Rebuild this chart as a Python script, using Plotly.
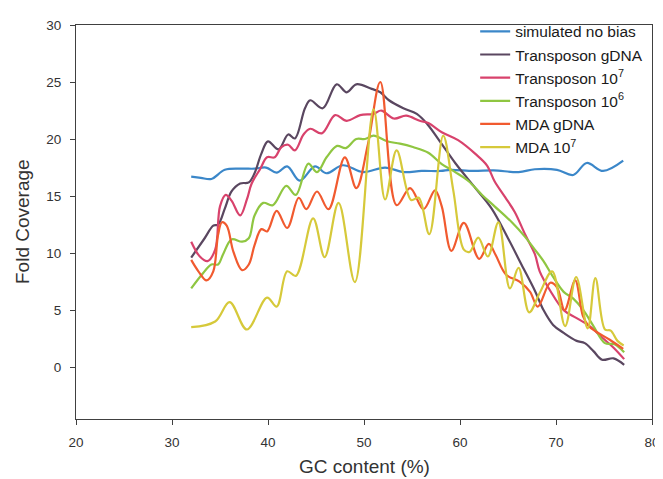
import plotly.graph_objects as go

# GC content (%) sample positions and fold coverage values
sim_x = [32, 33, 34.1, 35.5, 37.3, 38.6, 39.8, 40.9, 42.0, 43.3, 44.9, 46.1, 47.8, 49.9, 52.2, 54.1,
         56, 58, 59, 61.4, 63.5, 66.1, 67.8, 70.1, 71.8, 73.2, 74.9, 77]
sim_y = [16.7, 16.6, 16.5, 17.3, 17.4, 17.4, 17.5, 17.05, 17.6, 16.35, 17.6, 17.0, 17.7, 17.1, 17.5, 17.1,
         17.2, 17.2, 17.3, 17.2, 17.25, 17.1, 17.35, 17.3, 16.85, 17.9, 17.2, 18.1]

tg_x = [32, 33.4, 34.3, 34.8, 35.5, 36.2, 37.1, 38.0, 38.6, 39.3, 40.0, 41.1, 42.1, 42.8, 43.85, 44.4,
        45.7, 47.15, 48.2, 49.2, 50.8, 51.7, 52.6, 54.1, 55.5, 56.6, 57.9, 59.5, 61.6, 63.3, 65.0,
        66.4, 67.8, 68.7, 69.7, 70.8, 72.15, 73.0, 73.9, 74.8, 76.0, 77.1]
tg_y = [9.6, 11.3, 12.4, 12.5, 13.9, 15.4, 16.1, 16.2, 17.0, 18.7, 19.8, 19.1, 20.4, 20.05, 22.7, 23.4,
        22.7, 24.8, 24.1, 24.8, 24.4, 24.1, 23.4, 22.7, 22.2, 21.3, 19.8, 17.9, 15.7, 13.9, 11.3,
        9.0, 6.7, 5.0, 3.7, 3.0, 2.3, 2.1, 1.4, 0.65, 0.77, 0.2]

t7_x = [32, 32.9, 33.7, 34.5, 35.0, 35.6, 36.2, 37.1, 37.8, 38.3, 39.2, 39.9, 40.7, 41.4, 42.1, 42.8,
        43.7, 44.4, 45.6, 47.0, 48.2, 49.6, 51.0, 51.8, 53.1, 54.4, 55.8, 56.7, 58.1, 59.8, 61.6,
        62.8, 63.6, 64.7, 65.7, 66.8, 67.8, 68.3, 69.4, 70.8, 72.15, 73.5, 74.8, 76.0, 77.1]
t7_y = [11.0, 9.7, 9.3, 10.3, 14.1, 15.1, 14.6, 13.3, 14.7, 16.1, 17.4, 18.4, 18.4, 19.3, 19.5, 19.0,
        20.4, 20.9, 20.5, 22.1, 21.6, 22.1, 22.2, 22.5, 21.8, 22.05, 21.6, 21.4, 20.6, 19.9, 18.7,
        17.7, 16.3, 14.9, 13.6, 11.6, 9.9, 8.4, 6.7, 5.0, 4.3, 3.6, 2.6, 1.7, 0.7]

t6_x = [32, 33.1, 34.1, 34.8, 35.3, 36.2, 37.3, 38.0, 38.6, 39.5, 40.5, 41.9, 42.9, 44.2, 45.1, 46.1,
        47.2, 48.1, 49.2, 50.1, 51.0, 52.4, 53.75, 55.1, 56.7, 58.1, 59.5, 60.9, 62.3, 63.6, 65.4,
        66.8, 67.8, 68.7, 69.7, 70.8, 71.8, 72.85, 73.9, 75.1, 76.1, 77.1]
t6_y = [6.9, 8.1, 9.0, 9.0, 9.85, 11.2, 11.0, 11.3, 13.3, 14.4, 14.2, 15.9, 15.1, 17.85, 17.1, 18.4,
        19.4, 19.2, 20.0, 20.0, 20.3, 19.8, 19.6, 19.3, 18.8, 17.8, 17.1, 16.3, 15.1, 14.1, 12.7,
        11.4, 10.3, 9.3, 7.9, 6.6, 6.0, 5.0, 3.6, 2.1, 2.0, 1.3]

mg_x = [32, 32.75, 33.6, 34.3, 34.8, 35.2, 35.7, 36.4, 37.3, 38.0, 38.6, 39.3, 39.9, 40.9, 42.0, 43.2,
        44.0, 45.1, 46.3, 48.0, 49.2, 50.4, 51.7, 53.4, 54.8, 56.2, 57.4, 58.1, 59.1, 60.4, 62.0,
        63.0, 63.7, 64.8, 66.2, 67.3, 68.1, 69.4, 70.1, 70.9, 72.0, 72.8, 73.4, 74.2, 75.6, 77.0]
mg_y = [9.4, 8.4, 7.6, 8.4, 11.6, 12.7, 12.4, 10.1, 8.5, 9.0, 10.7, 12.1, 11.9, 13.7, 12.2, 14.85,
        13.85, 15.4, 13.85, 18.4, 15.7, 19.5, 25.0, 14.2, 15.7, 13.85, 15.5, 14.1, 10.2, 12.65, 9.5,
        10.8, 9.85, 8.1, 7.5, 6.6, 5.3, 7.4, 7.0, 5.0, 7.6, 4.5, 3.6, 3.1, 2.4, 1.6]

m7_x = [32, 34.5, 36.0, 37.8, 39.9, 40.9, 42.0, 42.9, 44.7, 45.9, 47.35, 49.05, 51.0, 52.2, 53.4, 54.9,
        55.7, 56.8, 58.25, 59.3, 60.4, 61.0, 61.9, 62.9, 64.0, 65.2, 66.1, 67.2, 68.3, 69.6, 70.95,
        72.1, 73.3, 74.1, 75.1, 75.7, 76.4, 77.05]
m7_y = [3.5, 4.0, 5.7, 3.3, 6.1, 5.3, 8.4, 8.0, 13.05, 9.65, 14.4, 7.45, 22.6, 14.7, 19.0, 14.65,
        14.85, 11.65, 20.3, 15.5, 10.3, 10.1, 11.35, 9.7, 12.7, 6.9, 8.7, 4.8, 6.5, 8.4, 3.6,
        7.9, 3.4, 7.8, 3.3, 3.2, 2.3, 1.9]

names = ["simulated no bias", "Transposon gDNA", "Transposon 10<sup>7</sup>",
         "Transposon 10<sup>6</sup>", "MDA gDNA", "MDA 10<sup>7</sup>"]
colors = ["#3b87c9", "#5a4760", "#d8426c", "#8fc641", "#f15a2f", "#d6c93a"]
xs = [sim_x, tg_x, t7_x, t6_x, mg_x, m7_x]
ys = [sim_y, tg_y, t7_y, t6_y, mg_y, m7_y]

x_ticks = [20, 30, 40, 50, 60, 70, 80]
y_ticks = [0, 5, 10, 15, 20, 25, 30]

fig = go.Figure()
for n, c, x, y in zip(names, colors, xs, ys):
    fig.add_trace(go.Scatter(x=x, y=y, name=n, mode="lines",
                             line=dict(color=c, width=2.2, shape="spline", smoothing=1.0)))

font_family = "Liberation Sans, Arial, sans-serif"
axis_common = dict(ticks="outside", ticklen=5, tickcolor="#404040", showline=True,
                   linecolor="#404040", linewidth=1, mirror=True, showgrid=False,
                   zeroline=False, automargin=False,
                   tickfont=dict(size=13.5, color="#333333"))
# page body has an 8px margin, so the figure is sized to fill the rest of the window
fig.update_layout(
    width=655, height=471,
    margin=dict(l=68, r=11, t=7, b=60),
    paper_bgcolor="white", plot_bgcolor="white",
    font=dict(family=font_family, color="#262626"),
    showlegend=True,
    legend=dict(x=0.693, y=1.026, xanchor="left", yanchor="top",
                font=dict(size=15.5, color="#1a1a1a"), bgcolor="rgba(0,0,0,0)",
                tracegroupgap=0, itemwidth=30),
    xaxis=dict(range=[20, 80], tickvals=x_ticks, ticklabelstandoff=6, **axis_common),
    yaxis=dict(range=[-4.55, 30], tickvals=y_ticks, ticklabelstandoff=6, **axis_common),
    annotations=[
        dict(text="GC content (%)", xref="paper", yref="paper", x=0.5, y=0,
             xanchor="center", yanchor="middle", yshift=-47, showarrow=False,
             font=dict(size=19, color="#333333")),
        dict(text="Fold Coverage", xref="paper", yref="paper", x=0, y=0.5,
             xanchor="center", yanchor="middle", xshift=-54, textangle=-90,
             showarrow=False, font=dict(size=19, color="#333333")),
    ],
)

fig.write_html("out.html")
